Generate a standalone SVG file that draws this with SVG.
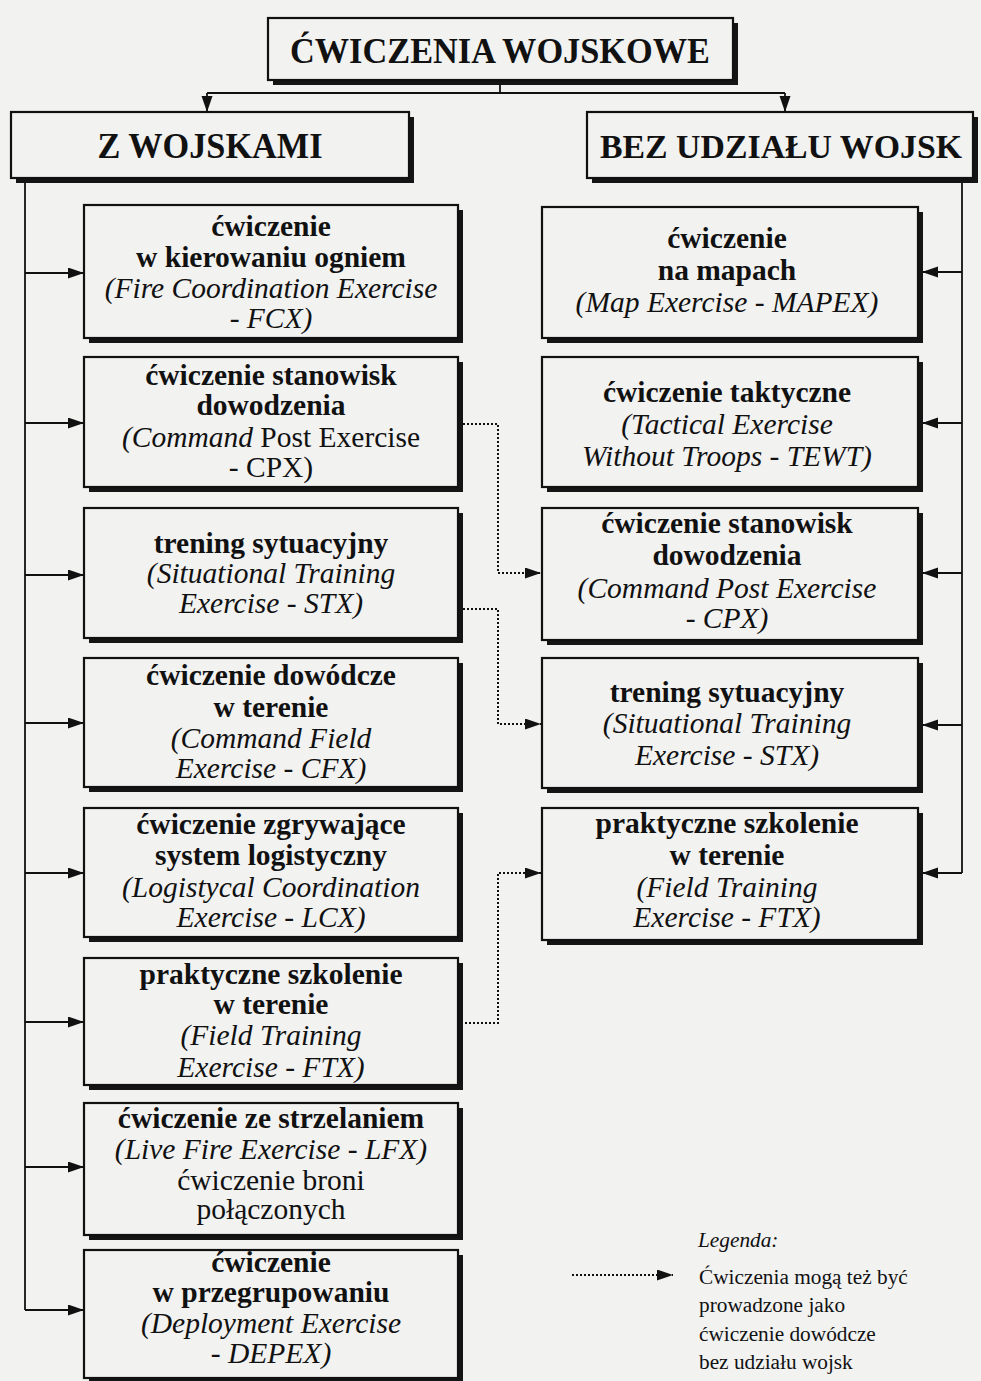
<svg xmlns="http://www.w3.org/2000/svg" width="981" height="1381" viewBox="0 0 981 1381">
  <style>
    .page { fill: #f2f2f1; }
    .box { fill: #f2f2f1; stroke: #111; stroke-width: 2.2; }
    .shadow { fill: #151515; }
    .head { font-family: "Liberation Serif", "Times New Roman", serif; font-weight: bold; font-size: 36px; fill: #111; text-anchor: middle; }
    .head-sm { font-family: "Liberation Serif", "Times New Roman", serif; font-weight: bold; font-size: 33px; fill: #111; text-anchor: middle; }
    .b { font-family: "Liberation Serif", "Times New Roman", serif; font-weight: bold; font-size: 29.5px; fill: #111; text-anchor: middle; }
    .i { font-family: "Liberation Serif", "Times New Roman", serif; font-style: italic; font-size: 29.5px; fill: #111; text-anchor: middle; }
    .r { font-family: "Liberation Serif", "Times New Roman", serif; font-size: 29.5px; fill: #111; text-anchor: middle; }
    .leg { font-family: "Liberation Serif", "Times New Roman", serif; font-size: 21.3px; fill: #111; }
    .solid { fill: none; stroke: #111; stroke-width: 1.8; }
    .dotted { fill: none; stroke: #111; stroke-width: 2; stroke-dasharray: 2 2; }
  </style>
  <defs>
    <marker id="arrow" markerUnits="userSpaceOnUse" markerWidth="17" markerHeight="12" refX="16" refY="5.5" orient="auto">
      <path d="M0,0 L16,5.5 L0,11 z" fill="#111" stroke="none"/>
    </marker>
  </defs>

  <rect class="page" x="0" y="0" width="981" height="1381"/>

  <!-- connectors -->
  <g id="connectors">
    <!-- root to the two branches -->
    <path class="solid" d="M500,82 V93 M207,93 H785"/>
    <path class="solid" d="M207,93 V112" marker-end="url(#arrow)"/>
    <path class="solid" d="M785,93 V112" marker-end="url(#arrow)"/>

    <!-- left trunk -->
    <path class="solid" d="M25,178 V1310"/>
    <path class="solid" d="M25,273 H84" marker-end="url(#arrow)"/>
    <path class="solid" d="M25,423 H84" marker-end="url(#arrow)"/>
    <path class="solid" d="M25,575 H84" marker-end="url(#arrow)"/>
    <path class="solid" d="M25,723 H84" marker-end="url(#arrow)"/>
    <path class="solid" d="M25,873 H84" marker-end="url(#arrow)"/>
    <path class="solid" d="M25,1022 H84" marker-end="url(#arrow)"/>
    <path class="solid" d="M25,1167 H84" marker-end="url(#arrow)"/>
    <path class="solid" d="M25,1310 H84" marker-end="url(#arrow)"/>

    <!-- right trunk -->
    <path class="solid" d="M962,178 V873"/>
    <path class="solid" d="M962,272 H922" marker-end="url(#arrow)"/>
    <path class="solid" d="M962,423 H922" marker-end="url(#arrow)"/>
    <path class="solid" d="M962,573 H922" marker-end="url(#arrow)"/>
    <path class="solid" d="M962,725 H922" marker-end="url(#arrow)"/>
    <path class="solid" d="M962,873 H922" marker-end="url(#arrow)"/>

    <!-- optional command-exercise links -->
    <path class="dotted" d="M463,424 H498 V573 H541" marker-end="url(#arrow)"/>
    <path class="dotted" d="M463,609 H498 V724 H541" marker-end="url(#arrow)"/>
    <path class="dotted" d="M465,1023 H498 V873 H541" marker-end="url(#arrow)"/>
  </g>

  <!-- root -->
  <g id="root">
    <rect class="shadow" x="273" y="23" width="465" height="62"/>
    <rect class="box" x="268" y="18" width="465" height="62"/>
    <text class="head" x="500" y="63" textLength="420" lengthAdjust="spacingAndGlyphs">ĆWICZENIA WOJSKOWE</text>
  </g>

  <g id="with-troops">
    <rect class="shadow" x="16" y="117" width="398" height="66"/>
    <rect class="box" x="11" y="112" width="398" height="66"/>
    <text class="head" x="210" y="158" textLength="225" lengthAdjust="spacingAndGlyphs">Z WOJSKAMI</text>
  </g>

  <g id="without-troops">
    <rect class="shadow" x="592" y="117" width="386" height="66"/>
    <rect class="box" x="587" y="112" width="386" height="66"/>
    <text class="head-sm" x="781" y="158" textLength="362" lengthAdjust="spacingAndGlyphs">BEZ UDZIAŁU WOJSK</text>
  </g>

  <!-- left column -->
  <g id="fcx">
    <rect class="shadow" x="89" y="210" width="374" height="133"/>
    <rect class="box" x="84" y="205" width="374" height="133"/>
    <text class="b" x="271" y="236">ćwiczenie</text>
    <text class="b" x="271" y="267">w kierowaniu ogniem</text>
    <text class="i" x="271" y="298">(Fire Coordination Exercise</text>
    <text class="i" x="271" y="328">- FCX)</text>
  </g>

  <g id="cpx-left">
    <rect class="shadow" x="89" y="362" width="374" height="130"/>
    <rect class="box" x="84" y="357" width="374" height="130"/>
    <text class="b" x="271" y="385">ćwiczenie stanowisk</text>
    <text class="b" x="271" y="415">dowodzenia</text>
    <text class="r" x="271" y="447"><tspan font-style="italic">(Command</tspan> Post Exercise</text>
    <text class="r" x="271" y="477">- CPX)</text>
  </g>

  <g id="stx-left">
    <rect class="shadow" x="89" y="513" width="374" height="130"/>
    <rect class="box" x="84" y="508" width="374" height="130"/>
    <text class="b" x="271" y="553">trening sytuacyjny</text>
    <text class="i" x="271" y="583">(Situational Training</text>
    <text class="i" x="271" y="613">Exercise - STX)</text>
  </g>

  <g id="cfx">
    <rect class="shadow" x="89" y="663" width="374" height="129"/>
    <rect class="box" x="84" y="658" width="374" height="129"/>
    <text class="b" x="271" y="685">ćwiczenie dowódcze</text>
    <text class="b" x="271" y="717">w terenie</text>
    <text class="i" x="271" y="748">(Command Field</text>
    <text class="i" x="271" y="778">Exercise - CFX)</text>
  </g>

  <g id="lcx">
    <rect class="shadow" x="89" y="813" width="374" height="129"/>
    <rect class="box" x="84" y="808" width="374" height="129"/>
    <text class="b" x="271" y="834">ćwiczenie zgrywające</text>
    <text class="b" x="271" y="865">system logistyczny</text>
    <text class="i" x="271" y="897">(Logistycal Coordination</text>
    <text class="i" x="271" y="927">Exercise - LCX)</text>
  </g>

  <g id="ftx-left">
    <rect class="shadow" x="89" y="963" width="374" height="127"/>
    <rect class="box" x="84" y="958" width="374" height="127"/>
    <text class="b" x="271" y="984">praktyczne szkolenie</text>
    <text class="b" x="271" y="1014">w terenie</text>
    <text class="i" x="271" y="1045">(Field Training</text>
    <text class="i" x="271" y="1077">Exercise - FTX)</text>
  </g>

  <g id="lfx">
    <rect class="shadow" x="89" y="1108" width="374" height="132"/>
    <rect class="box" x="84" y="1103" width="374" height="132"/>
    <text class="b" x="271" y="1128">ćwiczenie ze strzelaniem</text>
    <text class="i" x="271" y="1159">(Live Fire Exercise - LFX)</text>
    <text class="r" x="271" y="1190">ćwiczenie broni</text>
    <text class="r" x="271" y="1219">połączonych</text>
  </g>

  <g id="depex">
    <rect class="shadow" x="89" y="1255" width="374" height="128"/>
    <rect class="box" x="84" y="1250" width="374" height="128"/>
    <text class="b" x="271" y="1272">ćwiczenie</text>
    <text class="b" x="271" y="1302">w przegrupowaniu</text>
    <text class="i" x="271" y="1333">(Deployment Exercise</text>
    <text class="i" x="271" y="1363">- DEPEX)</text>
  </g>

  <!-- right column -->
  <g id="mapex">
    <rect class="shadow" x="547" y="212" width="376" height="131"/>
    <rect class="box" x="542" y="207" width="376" height="131"/>
    <text class="b" x="727" y="248">ćwiczenie</text>
    <text class="b" x="727" y="280">na mapach</text>
    <text class="i" x="727" y="312">(Map Exercise - MAPEX)</text>
  </g>

  <g id="tewt">
    <rect class="shadow" x="547" y="362" width="376" height="130"/>
    <rect class="box" x="542" y="357" width="376" height="130"/>
    <text class="b" x="727" y="402">ćwiczenie taktyczne</text>
    <text class="i" x="727" y="434">(Tactical Exercise</text>
    <text class="i" x="727" y="466">Without Troops - TEWT)</text>
  </g>

  <g id="cpx-right">
    <rect class="shadow" x="547" y="513" width="376" height="132"/>
    <rect class="box" x="542" y="508" width="376" height="132"/>
    <text class="b" x="727" y="533">ćwiczenie stanowisk</text>
    <text class="b" x="727" y="565">dowodzenia</text>
    <text class="i" x="727" y="598">(Command Post Exercise</text>
    <text class="i" x="727" y="628">- CPX)</text>
  </g>

  <g id="stx-right">
    <rect class="shadow" x="547" y="663" width="376" height="130"/>
    <rect class="box" x="542" y="658" width="376" height="130"/>
    <text class="b" x="727" y="702">trening sytuacyjny</text>
    <text class="i" x="727" y="733">(Situational Training</text>
    <text class="i" x="727" y="765">Exercise - STX)</text>
  </g>

  <g id="ftx-right">
    <rect class="shadow" x="547" y="813" width="376" height="132"/>
    <rect class="box" x="542" y="808" width="376" height="132"/>
    <text class="b" x="727" y="833">praktyczne szkolenie</text>
    <text class="b" x="727" y="865">w terenie</text>
    <text class="i" x="727" y="897">(Field Training</text>
    <text class="i" x="727" y="927">Exercise - FTX)</text>
  </g>

  <!-- legend -->
  <g id="legend">
    <text class="leg" x="698" y="1247" font-style="italic">Legenda:</text>
    <path class="dotted" d="M572,1275 H673" marker-end="url(#arrow)"/>
    <text class="leg" x="699" y="1284">Ćwiczenia mogą też być</text>
    <text class="leg" x="699" y="1312">prowadzone jako</text>
    <text class="leg" x="699" y="1341">ćwiczenie dowódcze</text>
    <text class="leg" x="699" y="1369">bez udziału wojsk</text>
  </g>
</svg>
